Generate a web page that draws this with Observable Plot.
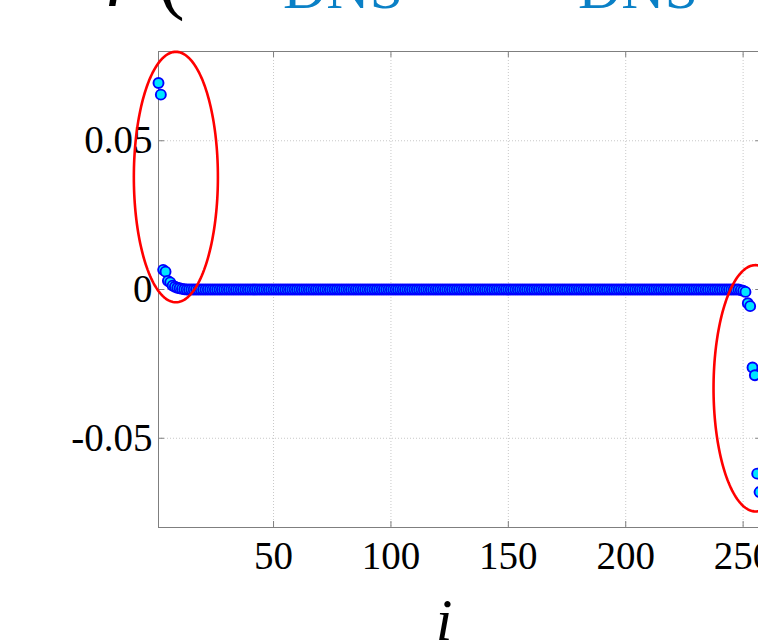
<!DOCTYPE html>
<html><head><meta charset="utf-8">
<script src="https://cdn.jsdelivr.net/npm/d3@7"></script>
<script src="https://cdn.jsdelivr.net/npm/@observablehq/plot@0.6"></script>
<style>html,body{margin:0;padding:0;overflow:hidden;background:#fff;width:758px;height:643px}</style>
</head><body><div id="chart"></div><script>
// values
const headValues = [0.0694, 0.0655, 0.0066, 0.0060, 0.0029, 0.0024, 0.0013, 0.0009, 0.0006, 0.0004, 0.0002, 0.0001];
const zeroCount = 236; // i = 13 .. 248 lie on zero
const tailValues = [-0.0002, -0.0004, -0.0008, -0.0046, -0.0056, -0.0262, -0.0288, -0.0619, -0.0681];
const xTicks = [50, 100, 150, 200, 250];
const yTicks = [-0.05, 0, 0.05];
const yTickLabels = ["-0.05", "0", "0.05"];
const xDomain = [1, 258];
const yDomain = [-0.08, 0.08];
const ellipses = [
  {cx: 8.4, cy: 0.0378, rx: 17.9, ry: 0.0421},
  {cx: 255.3, cy: -0.0332, rx: 17.9, ry: 0.0414}
];
const titleParts = [
  {text: "f", x: 108, y: -11, size: 80, color: "#000", italic: true},
  {text: "(", x: 158, y: 4, size: 80, color: "#000", italic: false},
  {text: "DNS", x: 283, y: 8, size: 60, color: "#0a80c6", italic: false},
  {text: "DNS", x: 578, y: 8, size: 60, color: "#0a80c6", italic: false}
];
const xLabel = "i";

const values = [...headValues, ...new Array(zeroCount).fill(0), ...tailValues];
const data = values.map((v, k) => ({i: k + 1, v}));
const ellipsePts = ellipses.flatMap((e, idx) =>
  d3.range(0, 361, 2).map(a => ({
    x: e.cx + e.rx * Math.cos(a * Math.PI / 180),
    y: e.cy + e.ry * Math.sin(a * Math.PI / 180),
    e: idx
  })));

const W = 800, H = 643, mL = 158, mT = 51, mB = 116, mR = 38.6;
const fw = W - mL - mR, fh = H - mT - mB;
const font = "'Liberation Serif', 'DejaVu Serif', serif";
const axisColor = "#7f7f7f";

const svg = Plot.plot({
  width: W, height: H,
  marginLeft: mL, marginRight: mR, marginTop: mT, marginBottom: mB,
  style: {fontFamily: font, background: "white", maxWidth: "none", overflow: "visible"},
  x: {domain: xDomain, label: null},
  y: {domain: yDomain, label: null},
  marks: [
    Plot.gridX(xTicks, {stroke: "#c8c8c8", strokeOpacity: 1, strokeDasharray: "1,2"}),
    Plot.gridY(yTicks, {stroke: "#c8c8c8", strokeOpacity: 1, strokeDasharray: "1,2"}),
    Plot.frame({stroke: axisColor, strokeWidth: 1}),
    Plot.tickX(xTicks, {x: d => d, insetTop: fh - 6, stroke: axisColor}),
    Plot.tickX(xTicks, {x: d => d, insetBottom: fh - 6, stroke: axisColor}),
    Plot.tickY(yTicks, {y: d => d, insetRight: fw - 6, stroke: axisColor}),
    Plot.tickY(yTicks, {y: d => d, insetLeft: fw - 6, stroke: axisColor}),
    Plot.axisX(xTicks, {tickSize: 0, tickPadding: 14, fontSize: 39, fill: "black", label: null}),
    Plot.axisY(yTicks, {tickSize: 0, tickPadding: 6, fontSize: 39, fill: "black", label: null,
      tickFormat: d => yTickLabels[yTicks.indexOf(d)]}),
    Plot.dot(data, {x: "i", y: "v", r: 5, fill: "#00e6ff", stroke: "#0000ff", strokeWidth: 1.9}),
    Plot.line(ellipsePts, {x: "x", y: "y", z: "e", stroke: "#ff0000", strokeWidth: 2.6, curve: "linear"})
  ]
});
document.getElementById("chart").appendChild(svg);

const s = d3.select(svg);
for (const p of titleParts) {
  s.append("text").text(p.text)
    .attr("x", p.x).attr("y", p.y).attr("text-anchor", "start")
    .attr("font-size", p.size).attr("font-family", font)
    .attr("font-style", p.italic ? "italic" : "normal")
    .attr("fill", p.color);
}
s.append("text").text(xLabel)
  .attr("x", 444).attr("y", 640).attr("text-anchor", "middle")
  .attr("font-size", 60).attr("font-style", "italic").attr("font-family", font)
  .attr("fill", "black");
</script></body></html>
